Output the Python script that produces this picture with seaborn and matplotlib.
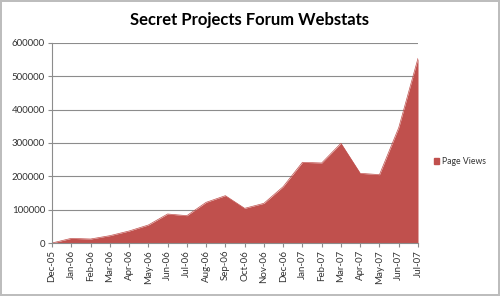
import matplotlib
matplotlib.use("Agg")
import matplotlib.pyplot as plt
import seaborn as sns
import numpy as np
import pandas as pd
from matplotlib.patches import Patch

months = ["Dec-05", "Jan-06", "Feb-06", "Mar-06", "Apr-06", "May-06", "Jun-06", "Jul-06",
          "Aug-06", "Sep-06", "Oct-06", "Nov-06", "Dec-06", "Jan-07", "Feb-07", "Mar-07",
          "Apr-07", "May-07", "Jun-07", "Jul-07"]
page_views = [0, 14000, 12000, 22000, 36000, 54000, 87000, 82000, 122000, 142000,
              104000, 119000, 169000, 242000, 240000, 299000, 209000, 205000, 346000, 554000]
y_ticks = [0, 100000, 200000, 300000, 400000, 500000, 600000]

sns.set_theme(style="white")
plt.rcParams['font.family'] = ['Lato', 'DejaVu Sans']

df = pd.DataFrame({"month": months, "views": page_views})
df["pos"] = np.arange(len(df))

fig = plt.figure(figsize=(5.0, 2.96), dpi=100)
fig.patch.set_facecolor("white")
fig.patch.set_edgecolor("#bdbdbd")
fig.patch.set_linewidth(1.5)
ax = fig.add_axes([0.104, 0.179, 0.732, 0.676])

color = "#C0504D"
sns.lineplot(data=df, x="pos", y="views", ax=ax, color=color, linewidth=0.5)
ax.fill_between(df["pos"], df["views"], color=color, linewidth=0)

ax.set_xlim(0, len(df) - 1)
ax.set_ylim(0, 600000)
ax.set_yticks(y_ticks)
ax.set_yticklabels([str(v) for v in y_ticks], fontsize=7, color="#333333")
ax.set_xticks(df["pos"])
ax.set_xticklabels(months, rotation=90, fontsize=7, color="#333333")
ax.set_xlabel("")
ax.set_ylabel("")
ax.yaxis.grid(True, color="#8c8c8c", linewidth=0.8)
ax.set_axisbelow(True)
for s in ["top", "right"]:
    ax.spines[s].set_visible(False)
ax.spines["left"].set_color("#8c8c8c")
ax.spines["bottom"].set_color("#8c8c8c")
ax.spines["left"].set_linewidth(0.8)
ax.spines["bottom"].set_linewidth(0.8)
ax.tick_params(axis="x", length=3, width=0.8, color="#8c8c8c", bottom=True, pad=2)
ax.tick_params(axis="y", length=3, width=0.8, color="#8c8c8c", left=True, pad=2)

fig.text(0.5, 0.932, "Secret Projects Forum Webstats", ha="center", va="center",
         fontsize=12, fontweight="bold", color="black")

fig.legend(handles=[Patch(facecolor=color, edgecolor=color, label="Page Views")],
           loc="center left", bbox_to_anchor=(0.852, 0.455), frameon=False,
           fontsize=6.2, handlelength=0.6, handleheight=0.6, handletextpad=0.35,
           labelcolor="#333333")

fig.savefig("out.png", dpi=100, facecolor=fig.get_facecolor(), edgecolor=fig.get_edgecolor())
